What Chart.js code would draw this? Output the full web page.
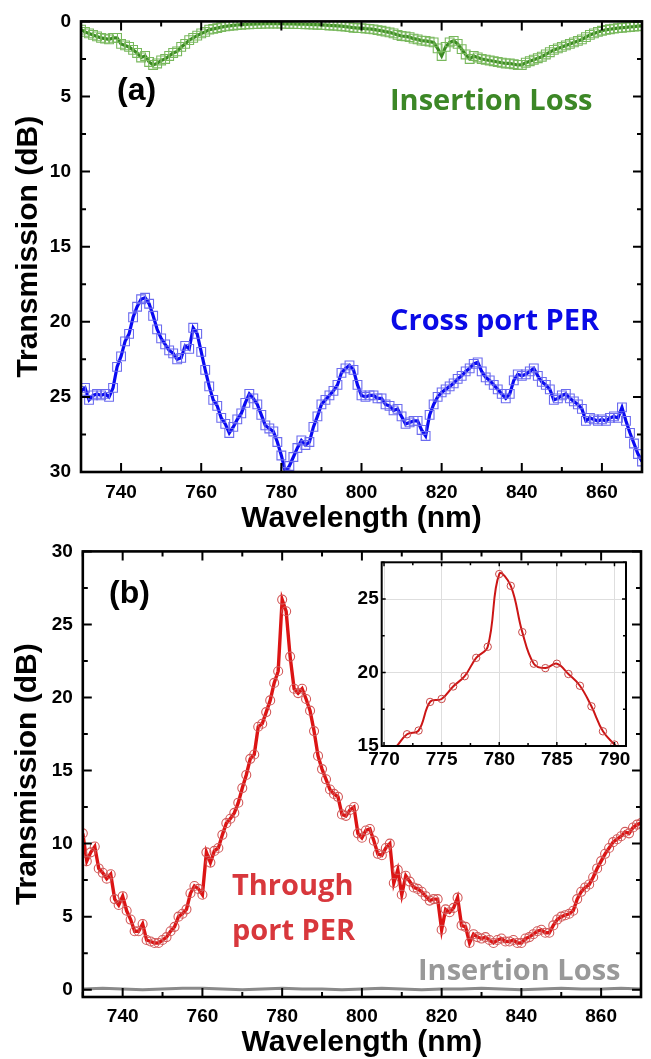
<!DOCTYPE html>
<html>
<head>
<meta charset="utf-8">
<script src="https://cdn.jsdelivr.net/npm/chart.js@4.4.0/dist/chart.umd.min.js"></script>
<style>
  body { margin: 0; background: #fff; width: 651px; height: 1059px; overflow: hidden; position: relative; }
  canvas { position: absolute; }
  .lbl { position: absolute; white-space: nowrap; line-height: 1; font-weight: bold; font-family: "Open Sans", sans-serif; font-size: 29px; }
  .tag { position: absolute; white-space: nowrap; line-height: 1; font-weight: bold; font-family: "Liberation Sans", Arial, sans-serif; font-size: 32px; color: #000; }
</style>
</head>
<body>
<canvas id="chartA" width="651" height="545" style="left:0;top:0"></canvas>
<canvas id="chartB" width="651" height="529" style="left:0;top:530px"></canvas>
<canvas id="inset" width="310" height="230" style="left:330px;top:545px"></canvas>

<div class="tag" style="left:117px;top:73px">(a)</div>
<div class="lbl" style="left:390px;top:84px;color:#3c8726">Insertion Loss</div>
<div class="lbl" style="left:390px;top:304px;color:#0a0ae6">Cross port PER</div>
<div class="tag" style="left:109px;top:576px">(b)</div>
<div class="lbl" style="left:232px;top:869px;color:#d8373c">Through</div>
<div class="lbl" style="left:232px;top:914px;color:#d8373c">port PER</div>
<div class="lbl" style="left:418px;top:954px;color:#999999">Insertion Loss</div>

<script>
// wavelength grid (nm), one sample per nm
const wavelengths = Array.from({ length: 141 }, (_, i) => 730 + i);

// panel (a): insertion loss (dB)
const insertionLossA = [
  0.55, 0.7, 0.8, 0.9, 1.0, 1.1, 1.15, 1.2, 1.1, 1.1,
  1.5, 1.6, 1.7, 1.9, 2.1, 2.4, 2.3, 2.7, 2.9, 2.8,
  2.6, 2.5, 2.3, 2.1, 2.0, 1.7, 1.5, 1.25, 1.1, 0.95,
  0.8, 0.7, 0.55, 0.5, 0.45, 0.38, 0.33, 0.3, 0.27, 0.24,
  0.22, 0.2, 0.19, 0.18, 0.17, 0.16, 0.15, 0.15, 0.15, 0.15,
  0.15, 0.16, 0.17, 0.17, 0.18, 0.18, 0.19, 0.2, 0.21, 0.22,
  0.23, 0.25, 0.27, 0.28, 0.3, 0.32, 0.35, 0.38, 0.42, 0.45,
  0.45, 0.48, 0.5, 0.53, 0.58, 0.62, 0.68, 0.73, 0.8, 0.9,
  0.97, 1.0, 1.05, 1.15, 1.2, 1.28, 1.3, 1.35, 1.4, 1.8,
  2.3, 1.7, 1.4, 1.3, 1.5, 1.85, 2.2, 2.5, 2.3, 2.4,
  2.5, 2.55, 2.6, 2.65, 2.7, 2.75, 2.8, 2.8, 2.85, 2.9,
  2.9, 2.75, 2.65, 2.55, 2.45, 2.35, 2.2, 2.05, 1.9, 1.8,
  1.7, 1.6, 1.5, 1.4, 1.3, 1.2, 1.05, 0.9, 0.8, 0.7,
  0.62, 0.56, 0.52, 0.48, 0.45, 0.42, 0.4, 0.37, 0.35, 0.32,
  0.3
];

// panel (a): cross port PER (dB)
const crossPortPER = [
  24.6, 24.4, 25.2, 24.9, 24.8, 24.9, 24.8, 25.0, 24.4, 23.0,
  22.3, 21.3, 20.8, 19.7, 19.0, 18.5, 18.4, 18.8, 19.6, 20.5,
  21.1, 21.5, 21.9, 22.1, 22.5, 22.4, 21.6, 21.8, 20.4, 20.8,
  22.0, 23.2, 24.3, 25.2, 25.6, 26.4, 26.8, 27.4, 27.0, 26.5,
  26.1, 25.4, 24.8, 25.1, 25.5, 26.2, 26.9, 27.1, 27.3, 28.0,
  28.9, 30.0, 29.6, 29.0, 28.4, 27.9, 28.2, 28.0, 27.0, 26.3,
  25.5, 25.2, 24.9, 24.6, 24.2, 23.4, 23.1, 22.9, 23.2, 24.2,
  24.9, 25.0, 24.9, 24.9, 25.1, 25.1, 25.5, 25.6, 25.9, 25.8,
  26.3, 26.8, 26.7, 26.6, 26.6, 27.2, 27.6, 26.2, 25.5, 25.0,
  24.7, 24.5, 24.3, 24.1, 23.8, 23.6, 23.3, 23.1, 22.8, 22.7,
  23.3, 23.7, 23.9, 24.2, 24.5, 24.8, 25.1, 24.8, 23.9, 23.5,
  23.6, 23.5, 23.3, 23.1, 23.6, 24.0, 24.2, 24.5, 25.2, 25.1,
  24.9, 24.8, 25.1, 25.3, 25.5, 25.8, 26.6, 26.4, 26.5, 26.6,
  26.5, 26.6, 26.4, 26.3, 26.4, 25.7, 26.6, 27.4, 28.1, 28.8,
  29.3
];

// panel (b): through port PER (dB)
const throughPortPER = [
  10.7, 8.8, 9.4, 9.8, 8.3, 8.0, 7.6, 7.9, 6.2, 5.8,
  6.4, 5.4, 4.8, 4.0, 4.0, 4.5, 3.4, 3.3, 3.2, 3.2,
  3.4, 3.6, 4.0, 4.3, 5.0, 5.2, 5.5, 6.6, 7.1, 6.9,
  6.5, 9.4, 8.7, 9.5, 9.7, 10.6, 11.4, 11.7, 12.1, 12.8,
  13.8, 14.7, 15.8, 16.1, 18.0, 18.2, 19.0, 19.8, 21.0, 21.8,
  26.7, 25.9, 22.8, 20.6, 20.3, 20.6, 19.9, 19.1, 17.7, 16.0,
  15.1, 14.4, 13.7, 13.4, 13.2, 12.0, 11.9, 12.3, 12.5, 10.7,
  10.4, 10.9, 11.0, 10.2, 9.3, 9.2, 9.7, 10.0, 7.3, 8.2,
  6.5, 7.8, 7.4, 7.0, 6.9, 6.7, 6.4, 6.1, 6.2, 6.2,
  4.1, 5.5, 5.3, 5.6, 6.3, 4.4, 4.3, 3.2, 3.8, 3.6,
  3.5, 3.6, 3.4, 3.2, 3.4, 3.5, 3.3, 3.3, 3.4, 3.2,
  3.2, 3.5, 3.6, 3.8, 4.0, 4.1, 3.9, 3.9, 4.4, 4.8,
  5.0, 5.1, 5.2, 5.4, 6.2, 6.7, 7.0, 7.2, 7.7, 8.3,
  8.8, 9.3, 9.7, 10.1, 10.3, 10.5, 10.8, 10.7, 11.1, 11.3,
  11.4
];

// panel (b): insertion loss, sampled every 5 nm
const lossWavelengthsB = [730, 735, 740, 745, 750, 755, 760, 765, 770, 775, 780, 785, 790, 795, 800,
  805, 810, 815, 820, 825, 830, 835, 840, 845, 850, 855, 860, 865, 870];
const insertionLossB = [0.05, 0.1, 0.05, 0.0, 0.05, 0.1, 0.1, 0.05, 0.0, 0.05, 0.1, 0.05, 0.05, 0.0, 0.05,
  0.1, 0.05, 0.0, 0.05, 0.05, 0.1, 0.05, 0.0, 0.05, 0.1, 0.05, 0.05, 0.1, 0.05];

// inset: zoom on the peak
const insetWavelengths = [770, 771, 772, 773, 774, 775, 776, 777, 778, 779, 780,
  781, 782, 783, 784, 785, 786, 787, 788, 789, 790, 791];
const insetPER = [14.2, 14.9, 15.8, 16.05, 18.0, 18.2, 19.05, 19.75, 21.0, 21.75, 26.7,
  25.9, 22.75, 20.6, 20.3, 20.6, 19.9, 19.1, 17.7, 16.0, 15.1, 14.3];

const pts = (xs, ys) => xs.map((x, i) => ({ x: x, y: ys[i] }));

const tickFont = { family: '"Liberation Sans", Arial, sans-serif', size: 19, weight: 'bold' };
const titleFont = { family: '"Liberation Sans", Arial, sans-serif', size: 30, weight: 'bold', lineHeight: 1.1 };

// box frame with inward ticks on all four sides
const frameTicks = {
  id: 'frameTicks',
  afterDatasetsDraw(chart, args, opts) {
    const { ctx, chartArea: a, scales } = chart;
    const isMajor = (v, step) => Math.abs(v / step - Math.round(v / step)) < 1e-6;
    ctx.save();
    ctx.strokeStyle = '#000';
    ctx.lineWidth = opts.tickWidth;
    ctx.beginPath();
    scales.x.ticks.forEach(t => {
      const px = scales.x.getPixelForValue(t.value);
      const len = isMajor(t.value, opts.xMajor) ? opts.major : opts.minor;
      ctx.moveTo(px, a.bottom); ctx.lineTo(px, a.bottom - len);
      ctx.moveTo(px, a.top); ctx.lineTo(px, a.top + len);
    });
    scales.y.ticks.forEach(t => {
      const py = scales.y.getPixelForValue(t.value);
      const len = isMajor(t.value, opts.yMajor) ? opts.major : opts.minor;
      ctx.moveTo(a.left, py); ctx.lineTo(a.left + len, py);
      ctx.moveTo(a.right, py); ctx.lineTo(a.right - len, py);
    });
    ctx.stroke();
    ctx.lineWidth = opts.frameWidth;
    ctx.strokeRect(a.left, a.top, a.right - a.left, a.bottom - a.top);
    ctx.restore();
  }
};

function mainScales(opt) {
  return {
    x: {
      type: 'linear', min: 730, max: 870,
      grid: { display: false, drawTicks: false }, border: { display: false },
      ticks: { stepSize: 10, autoSkip: false, maxRotation: 0, padding: opt.xPad, font: tickFont, color: '#000',
        callback: v => (v % 20 === 0 ? v : '') },
      title: { display: true, text: 'Wavelength (nm)', font: titleFont, color: '#000', padding: { top: 0, bottom: opt.xTitlePad } },
      afterFit: s => { s.height = opt.xHeight; }
    },
    y: {
      type: 'linear', min: opt.yMin, max: 30, reverse: opt.reverse,
      grid: { display: false, drawTicks: false }, border: { display: false },
      ticks: { stepSize: 2.5, autoSkip: false, includeBounds: false, padding: 10, font: tickFont, color: '#000',
        callback: v => (v % 5 === 0 ? v : '') },
      title: { display: true, text: 'Transmission (dB)', font: titleFont, color: '#000', padding: { top: opt.yTitlePad, bottom: 0 } },
      afterFit: s => { s.width = opt.yWidth; }
    }
  };
}

const squares = (line, mark) => ({
  borderColor: line, borderWidth: 3.2, tension: 0,
  pointStyle: 'rect', pointRadius: 6.2, pointBorderWidth: 1.1,
  pointBorderColor: mark, pointBackgroundColor: 'rgba(0,0,0,0)'
});

new Chart(document.getElementById('chartA'), {
  type: 'line',
  data: {
    datasets: [
      Object.assign({ label: 'Insertion Loss', data: pts(wavelengths, insertionLossA) }, squares('#3b8a22', '#78b85c')),
      Object.assign({ label: 'Cross port PER', data: pts(wavelengths, crossPortPER) }, squares('#0a0af2', '#6b6bef'))
    ]
  },
  options: {
    responsive: false, animation: false,
    layout: { padding: { top: 17, right: 6, left: 0, bottom: 0 } },
    plugins: {
      legend: { display: false }, tooltip: { enabled: false },
      frameTicks: { xMajor: 20, yMajor: 5, major: 9, minor: 5, tickWidth: 2, frameWidth: 2.6 }
    },
    scales: mainScales({ yMin: 0, reverse: true, xPad: 9, xTitlePad: 10, xHeight: 73, yTitlePad: 12, yWidth: 81 })
  },
  plugins: [frameTicks]
});

new Chart(document.getElementById('chartB'), {
  type: 'line',
  data: {
    datasets: [
      { label: 'Through port PER', data: pts(wavelengths, throughPortPER),
        borderColor: '#dc1414', borderWidth: 3.4, tension: 0,
        pointStyle: 'circle', pointRadius: 4.5, pointBorderWidth: 1.1,
        pointBorderColor: '#d25a5a', pointBackgroundColor: 'rgba(0,0,0,0)' },
      { label: 'Insertion Loss', data: pts(lossWavelengthsB, insertionLossB),
        borderColor: '#8a8a8a', borderWidth: 3, tension: 0, pointRadius: 0 }
    ]
  },
  options: {
    responsive: false, animation: false,
    layout: { padding: { top: 18, right: 10, left: 0, bottom: 0 } },
    plugins: {
      legend: { display: false }, tooltip: { enabled: false },
      frameTicks: { xMajor: 20, yMajor: 5, major: 9, minor: 5, tickWidth: 2, frameWidth: 2.6 }
    },
    scales: mainScales({ yMin: -0.5, reverse: false, xPad: 8, xTitlePad: 0, xHeight: 62, yTitlePad: 11, yWidth: 82.8 })
  },
  plugins: [frameTicks]
});

new Chart(document.getElementById('inset'), {
  type: 'line',
  data: {
    datasets: [{
      label: 'Through port PER (zoom)', data: pts(insetWavelengths, insetPER),
      borderColor: '#cc1515', borderWidth: 2, tension: 0.4,
      pointStyle: 'circle', pointBorderWidth: 1,
      pointRadius: c => (c.raw && c.raw.y < 15 ? 0 : 3.7),
      pointBorderColor: '#c84646', pointBackgroundColor: 'rgba(0,0,0,0)'
    }]
  },
  options: {
    responsive: false, animation: false,
    layout: { padding: { top: 17.3, right: 14, left: 0, bottom: 0 } },
    plugins: {
      legend: { display: false }, tooltip: { enabled: false },
      frameTicks: { xMajor: 5, yMajor: 5, major: 4, minor: 3, tickWidth: 1.5, frameWidth: 2 }
    },
    scales: {
      x: {
        type: 'linear', min: 769.8, max: 791,
        grid: { drawTicks: false, color: c => (c.tick && c.tick.value % 5 === 0 ? '#dedede' : 'rgba(0,0,0,0)') },
        border: { display: false },
        ticks: { stepSize: 2.5, autoSkip: false, includeBounds: false, maxRotation: 0, padding: 2, font: tickFont, color: '#000',
          callback: v => (v % 5 === 0 ? v : '') },
        afterFit: s => { s.height = 29; }
      },
      y: {
        type: 'linear', min: 15, max: 27.5,
        grid: { drawTicks: false, color: c => (c.tick && c.tick.value % 5 === 0 ? '#dedede' : 'rgba(0,0,0,0)') },
        border: { display: false },
        ticks: { stepSize: 2.5, autoSkip: false, padding: 3, font: tickFont, color: '#000',
          callback: v => (v % 5 === 0 ? v : '') },
        afterFit: s => { s.width = 51.7; }
      }
    }
  },
  plugins: [frameTicks]
});
</script>
</body>
</html>
